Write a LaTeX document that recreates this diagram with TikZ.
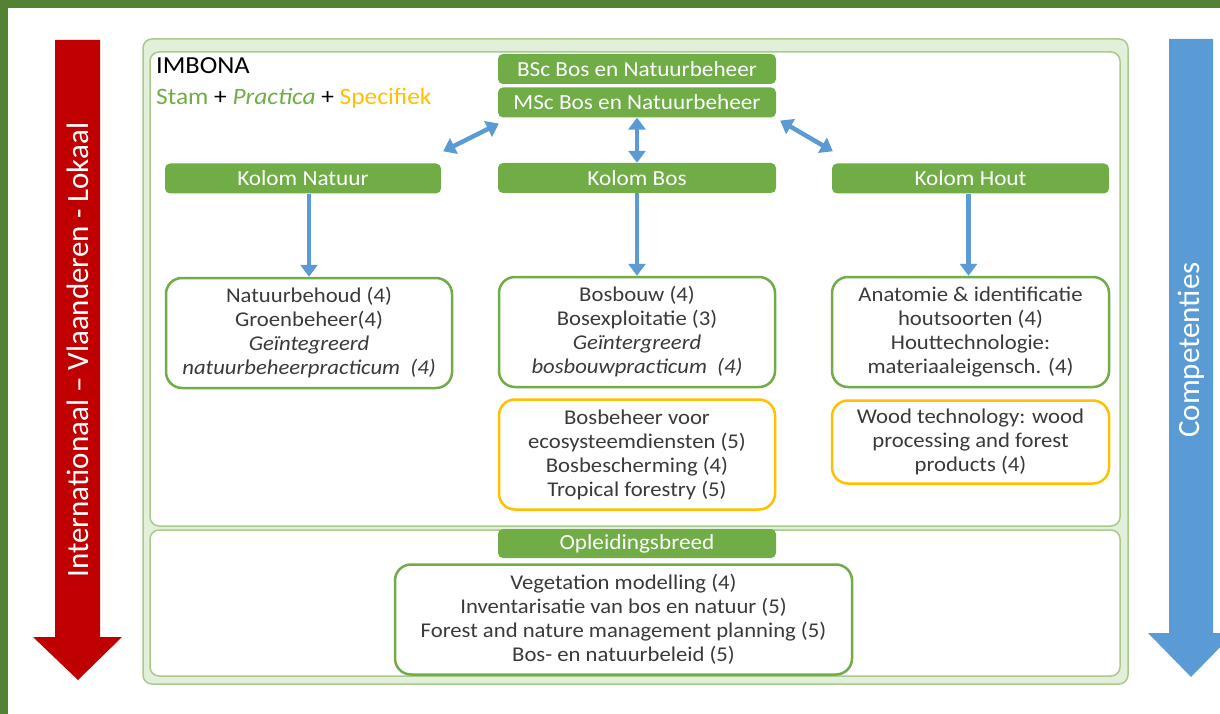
\documentclass[tikz,border=0pt]{standalone}
\usepackage{fontspec}
\setmainfont{Carlito}[FakeStretch=1.08]
\newfontfamily\rotfont{Carlito}
\usetikzlibrary{positioning,arrows.meta}

\definecolor{frameGreen}{HTML}{548235}
\definecolor{barGreen}{HTML}{70AD47}
\definecolor{panelFill}{HTML}{E2F0D9}
\definecolor{panelLine}{HTML}{A9C98F}
\definecolor{txtGrey}{HTML}{3A3A3A}
\definecolor{specYellow}{HTML}{FFC000}
\definecolor{scaleRed}{HTML}{C00000}
\definecolor{arrowBlue}{HTML}{5B9BD5}

\begin{document}
\begin{tikzpicture}[
        x=1pt, y=-1pt,
        >={Triangle[length=12pt,width=17pt]},
        bar/.style={fill=barGreen, text=white, rounded corners=5pt, minimum width=278pt, minimum height=30pt, inner sep=0pt, font=\fontsize{21.5}{24}\selectfont},
        course/.style={draw=barGreen, line width=2.5pt, fill=white, rounded corners=16pt, text=txtGrey, align=center, inner sep=0pt, minimum height=110pt, font=\fontsize{21}{24}\selectfont},
        special/.style={course, draw=specYellow},
        panel/.style={draw=panelLine, line width=1.5pt, rounded corners=9pt},
        link/.style={draw=arrowBlue, line width=4.5pt},
        side/.style={text=white, rotate=90, font=\rotfont\fontsize{31}{36}\selectfont}
    ]
        \useasboundingbox (0,0) rectangle (1220,714);

        % Frame
        \fill[frameGreen] (0,0) rectangle (1220,8);
        \fill[frameGreen] (0,0) rectangle (8,714);

        % Panels
        \draw[panel, fill=panelFill] (143,39) rectangle (1128,684);
        \draw[panel, fill=white] (150,52) rectangle (1120,526);
        \draw[panel, fill=white] (150,530) rectangle (1120,676);

        % Side arrows
        \fill[scaleRed] (55,40) -- (100,40) -- (100,637) -- (122,637) -- (78,680) -- (33,637) -- (55,637) -- cycle;
        \node (scale) [side] at (78,350) {Internationaal – Vlaanderen - Lokaal};
        \fill[arrowBlue] (1169,39) -- (1213,39) -- (1213,633) -- (1234,633) -- (1191,677) -- (1148,633) -- (1169,633) -- cycle;
        \node (comp) [side] at (1191,350) {Competenties};

        % Legend
        \node (imbona) [anchor=base west, inner sep=0pt, font=\fontsize{24.5}{28}\selectfont] at (156,74) {IMBONA};
        \node (legend) [anchor=base west, inner sep=0pt, font=\fontsize{23.5}{28}\selectfont] at (156,105)
            {\textcolor{barGreen}{Stam} + \textcolor{barGreen}{\itshape Practica} + \textcolor{specYellow}{Specifiek}};

        % Nodes
        \node (bsc) [bar] at (637,69) {BSc Bos en Natuurbeheer};
        \node (msc) [bar, below=3pt of bsc] {MSc Bos en Natuurbeheer};
        \node (kolnatuur) [bar, minimum width=276pt] at (303,178.5) {Kolom Natuur};
        \node (kolbos) [bar] at (637,178) {Kolom Bos};
        \node (kolhout) [bar, minimum width=277pt] at (970.5,178.5) {Kolom Hout};

        \node (natuur) [course, minimum width=286pt] at (309,333)
            {Natuurbehoud (4)\\Groenbeheer(4)\\\textit{Geïntegreerd}\\\textit{natuurbeheerpracticum\ \ (4)}};
        \node (bos) [course, minimum width=276pt] at (637,332)
            {Bosbouw (4)\\Bosexploitatie (3)\\\textit{Geïntergreerd}\\\textit{bosbouwpracticum\ \ (4)}};
        \node (bosspec) [special, minimum width=276pt, below=10pt of bos]
            {Bosbeheer voor\\ecosysteemdiensten (5)\\Bosbescherming (4)\\Tropical forestry (5)};
        \node (hout) [course, minimum width=277pt] at (970.5,332)
            {Anatomie \& identificatie\\houtsoorten (4)\\Houttechnologie:\\materiaaleigensch. (4)};
        \node (houtspec) [special, minimum width=277pt, minimum height=83pt, below=11pt of hout]
            {Wood technology: wood\\processing and forest\\products (4)};

        \node (opleid) [bar, minimum height=29pt] at (637,543.5) {Opleidingsbreed};
        \node (breed) [course, minimum width=457pt] at (623.5,619.5)
            {Vegetation modelling (4)\\Inventarisatie van bos en natuur (5)\\Forest and nature management planning (5)\\Bos- en natuurbeleid (5)};

        % Connections
        \draw[link, <->] ([shift={(1,6)}]msc.south west) -- ([shift={(2,-12)}]kolnatuur.north east);
        \draw[link, <->] (msc.south) -- (kolbos.north);
        \draw[link, <->] ([shift={(4,3)}]msc.south east) -- ([shift={(1,-12)}]kolhout.north west);
        \draw[link, ->] (kolnatuur.south -| natuur.north) -- (natuur.north);
        \draw[link, ->] (kolbos.south) -- (bos.north);
        \draw[link, ->] ([xshift=-2pt]kolhout.south) -- ([xshift=-2pt]kolhout.south |- hout.north);
\end{tikzpicture}
\end{document}
